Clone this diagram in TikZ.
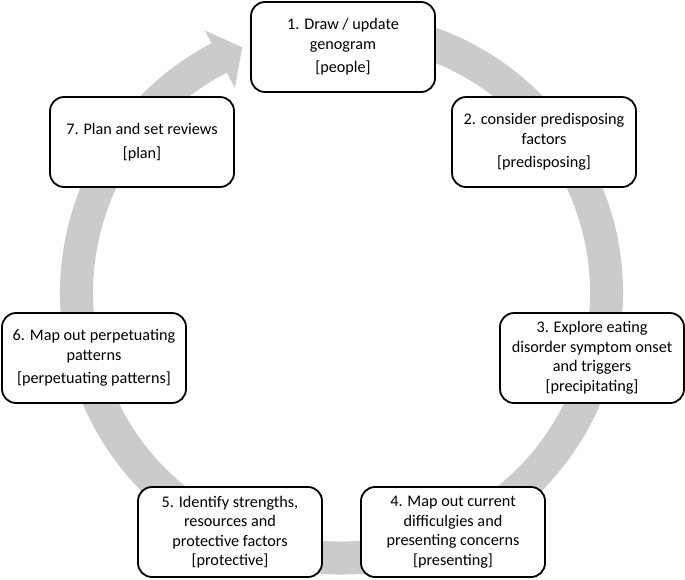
\documentclass[tikz,border=0pt]{standalone}
\usepackage{fontspec}
\setmainfont{Carlito}
\definecolor{ringgray}{HTML}{CBCBCB}
\tikzset{
  stepbox/.style={draw=black, line width=1.8pt, rounded corners=14pt, fill=white,
    align=center, minimum width=184pt, minimum height=90pt, inner sep=0pt,
    font=\fontsize{16.2}{19.5}\selectfont}
}
\begin{document}
\begin{tikzpicture}[x=1pt,y=-1pt]
\useasboundingbox (0,0) rectangle (685,579);
% circular arrow ring
\begin{scope}[shift={(341.5,293)}]
  \fill[ringgray] (-80:281.5) arc[start angle=-80, end angle=242.5, radius=281.5]
     -- (242.5:296) -- (248:265) -- (242.5:231) -- (242.5:248.5)
     arc[start angle=242.5, end angle=-80, radius=248.5] -- cycle;
\end{scope}
\node[stepbox] (n1) at (343,47) {1. Draw / update\\genogram\\[4pt][people]};
\node[stepbox] (n2) at (544,142) {2. consider predisposing\\factors\\[4pt][predisposing]};
\node[stepbox] (n3) at (592,358) {3. Explore eating\\disorder symptom onset\\and triggers\\{[precipitating]}};
\node[stepbox] (n4) at (453,532) {4. Map out current\\difficulgies and\\presenting concerns\\{[presenting]}};
\node[stepbox] (n5) at (230,532) {5. Identify strengths,\\resources and\\protective factors\\{[protective]}};
\node[stepbox] (n6) at (94,358) {6. Map out perpetuating\\patterns\\[4pt][perpetuating patterns]};
\node[stepbox] (n7) at (142,142) {7. Plan and set reviews\\[5pt][plan]};
\end{tikzpicture}
\end{document}
